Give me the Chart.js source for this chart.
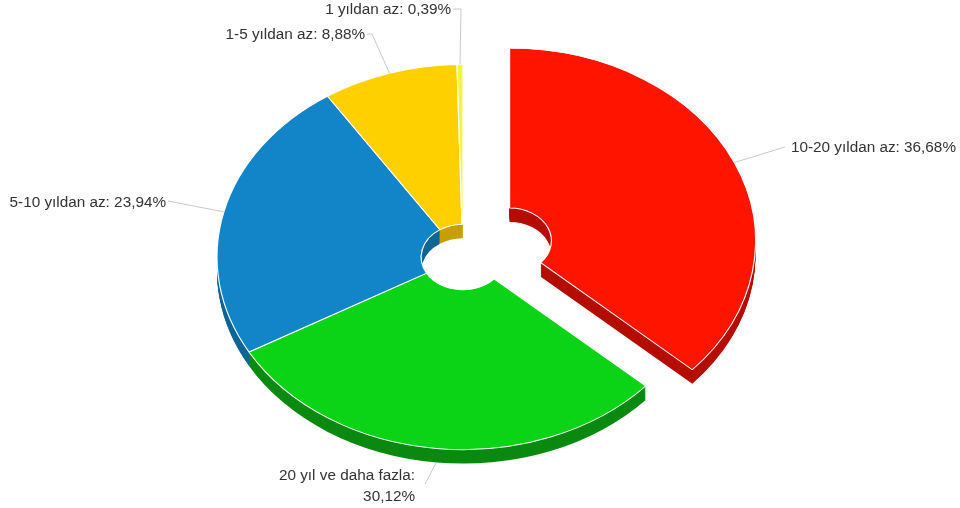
<!DOCTYPE html>
<html>
<head>
<meta charset="utf-8">
<script src="https://cdnjs.cloudflare.com/ajax/libs/Chart.js/4.4.0/chart.umd.min.js"></script>
<style>
  html, body { margin: 0; padding: 0; background: #fff; }
  canvas { display: block; }
</style>
</head>
<body>
<canvas id="chart" width="960" height="508"></canvas>
<script>
const categories = ["10-20 yıldan az", "20 yıl ve daha fazla", "5-10 yıldan az", "1-5 yıldan az", "1 yıldan az"];
const shares = [36.68, 30.12, 23.94, 8.88, 0.39];
const topColors = ["#ff1400", "#0bd315", "#1285c8", "#ffd000", "#f4f43c"];
const sideColors = ["#b50d00", "#0a8a10", "#0e6596", "#c7a000", "#bdbd20"];
const explode = [51, 0, 0, 0, 0];

const SQUASH = 0.783; // pie is tilted, so y is flattened
const DEPTH = 14;

// where the leader ends and the text sits, in page pixels
const labelLayout = [
  { elbow: [785, 147], lines: [[791, 148, "left"]] },
  { elbow: [425, 484], lines: [[415, 476, "right"], [415, 497, "right"]], wrap: true },
  { elbow: [168, 201], lines: [[166, 203, "right"]] },
  { elbow: [372, 34], end: [367, 34], lines: [[365, 35, "right"]] },
  { elbow: [461, 9], end: [453, 9], lines: [[451, 10, "right"]] },
];

const formatShare = (v) => v.toFixed(2).replace(".", ",") + "%";

function drawArc(ctx, arc, i, fill, border) {
  const mid = (arc.startAngle + arc.endAngle) / 2;
  const saved = arc.options;
  arc.options = { ...saved, backgroundColor: fill, borderColor: border, borderWidth: border ? 1.2 : 0 };
  ctx.save();
  ctx.translate(Math.cos(mid) * explode[i], Math.sin(mid) * explode[i]);
  arc.draw(ctx);
  ctx.restore();
  arc.options = saved;
}

const tiltedPie = {
  id: "tiltedPie",
  beforeDatasetDraw(chart, args) {
    const { ctx } = chart;
    const arcs = args.meta.data;
    const cx = arcs[0].x;
    const cy = arcs[0].y;

    for (let d = DEPTH; d >= 1; d--) {
      ctx.save();
      ctx.translate(cx, cy + d);
      ctx.scale(1, SQUASH);
      ctx.translate(-cx, -cy);
      arcs.forEach((arc, i) => drawArc(ctx, arc, i, sideColors[i], null));
      ctx.restore();
    }

    ctx.save();
    ctx.translate(cx, cy);
    ctx.scale(1, SQUASH);
    ctx.translate(-cx, -cy);
    arcs.forEach((arc, i) => drawArc(ctx, arc, i, topColors[i], "#ffffff"));
    ctx.restore();

    return false; // already drawn
  },
  afterDatasetsDraw(chart) {
    const { ctx } = chart;
    const arcs = chart.getDatasetMeta(0).data;
    ctx.save();
    ctx.font = '15.3px "Liberation Sans"';
    ctx.textBaseline = "middle";
    arcs.forEach((arc, i) => {
      const mid = (arc.startAngle + arc.endAngle) / 2;
      const layout = labelLayout[i];
      const r = arc.outerRadius;
      const sx = arc.x + Math.cos(mid) * (r + explode[i]);
      let sy = arc.y + Math.sin(mid) * (r + explode[i]) * SQUASH;
      if (Math.sin(mid) > 0.9) sy += DEPTH;

      ctx.strokeStyle = "#c8c8c8";
      ctx.lineWidth = 1;
      ctx.beginPath();
      ctx.moveTo(sx, sy);
      ctx.lineTo(layout.elbow[0], layout.elbow[1]);
      if (layout.end) ctx.lineTo(layout.end[0], layout.end[1]);
      ctx.stroke();

      const texts = layout.wrap
        ? [categories[i] + ":", formatShare(shares[i])]
        : [categories[i] + ": " + formatShare(shares[i])];
      ctx.fillStyle = "#333333";
      layout.lines.forEach((line, n) => {
        ctx.textAlign = line[2];
        ctx.fillText(texts[n], line[0], line[1]);
      });
    });
    ctx.restore();
  },
};

new Chart(document.getElementById("chart"), {
  type: "doughnut",
  data: {
    labels: categories,
    datasets: [{ data: shares, backgroundColor: topColors, borderColor: "#ffffff", borderWidth: 1, clip: false }],
  },
  options: {
    responsive: false,
    animation: false,
    events: [],
    radius: 246,
    cutout: "17%",
    layout: { padding: { top: 6, right: 34 } },
    plugins: { legend: { display: false }, tooltip: { enabled: false } },
  },
  plugins: [tiltedPie],
});
</script>
</body>
</html>
